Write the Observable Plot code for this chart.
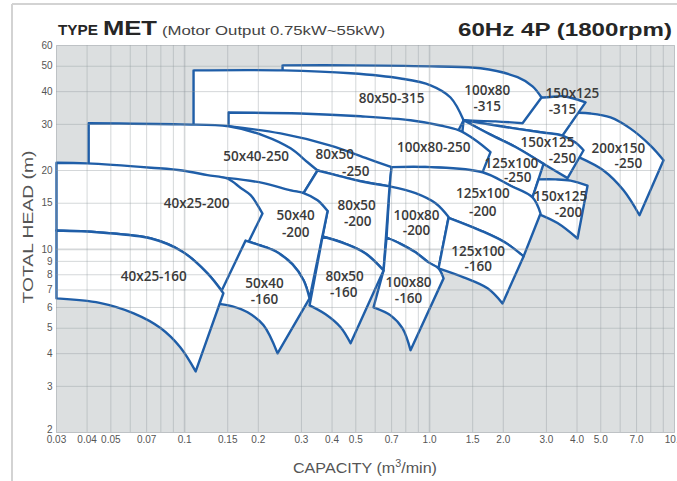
<!DOCTYPE html>
<html><head><meta charset="utf-8">
<script src="https://cdn.jsdelivr.net/npm/d3@7"></script>
<script src="https://cdn.jsdelivr.net/npm/@observablehq/plot@0.6"></script>
<style>
body{margin:0;background:#fff;}
#wrap{position:relative;width:677px;height:481px;overflow:hidden;}
#chart{position:absolute;left:0;top:0;}
#over{position:absolute;left:0;top:0;pointer-events:none;}
</style></head>
<body><div id="wrap"><div id="chart"></div>
<svg id="over" width="677" height="481" font-family="Liberation Sans, Arial, sans-serif">
  <line x1="12" y1="4" x2="677" y2="4" stroke="#d3d3d3" stroke-width="2"/>
  <line x1="12" y1="4" x2="12" y2="481" stroke="#d3d3d3" stroke-width="2"/>
  <text x="58" y="35" font-weight="bold" font-size="14.5" fill="#262626" textLength="40" lengthAdjust="spacingAndGlyphs">TYPE</text>
  <text x="103" y="35" font-weight="bold" font-size="20" fill="#262626" textLength="54" lengthAdjust="spacingAndGlyphs">MET</text>
  <text x="162" y="35" font-size="13" fill="#444" textLength="223" lengthAdjust="spacingAndGlyphs">(Motor Output 0.75kW~55kW)</text>
  <text x="458" y="36" font-weight="bold" font-size="19" fill="#262626" textLength="214" lengthAdjust="spacingAndGlyphs">60Hz 4P (1800rpm)</text>
  <text x="293" y="473" font-size="15" fill="#555" textLength="144" lengthAdjust="spacingAndGlyphs">CAPACITY (m<tspan font-size="10" dy="-6">3</tspan><tspan dy="6">/min)</tspan></text>
  <text transform="translate(33,227) rotate(-90)" text-anchor="middle" font-size="15" fill="#555" textLength="153" lengthAdjust="spacingAndGlyphs">TOTAL HEAD (m)</text>
</svg></div>
<script>
// ---- axis ticks ----
const xTickValues = [0.03,0.04,0.05,0.07,0.1,0.15,0.2,0.3,0.4,0.5,0.7,1,1.5,2,3,4,5,7,10];
const xTickLabels = ["0.03","0.04","0.05","0.07","0.1","0.15","0.2","0.3","0.4","0.5","0.7","1.0","1.5","2.0","3.0","4.0","5.0","7.0","10.0"];
const yTickValues = [3,4,5,6,7,8,9,10,15,20,30,40,50,60];
const yBottomTick = [2];
const xGridValues = [0.04,0.05,0.06,0.07,0.08,0.09,0.1,0.15,0.2,0.3,0.4,0.5,0.6,0.7,0.8,0.9,1,1.5,2,3,4,5,6,7,8,9];
const yGridValues = [3,4,5,6,7,8,9,10,15,20,30,40,50];

// ---- pump ranges: [capacity m3/min, head m] ----
// 315 band
const m150x125_315_top = [[1.377,42.3],[1.949,40.5],[2.865,38.0],[3.524,38.4],[4.334,36.4]];
const m150x125_315_bot = [[1.377,31.1],[1.949,29.5],[2.839,28.0],[3.491,27.2]];
const m100x80_315_top = [[0.2512,50.4],[0.4761,50.4],[1.088,49.9],[1.615,49.1],[2.287,45.4],[2.633,41.9],[2.865,38.0]];
const m100x80_315_bot = [[0.2512,37.1],[0.7614,34.0],[1.377,31.1],[1.859,30.8],[2.397,30.3]];
const m80x50_315_top = [[0.1088,48.2],[0.2535,48.2],[0.4761,47.0],[0.7614,44.9],[1.0095,42.3],[1.218,38.0],[1.377,31.1]];
const m80x50_315_bot = [[0.1088,28.9],[0.2975,28.7],[1.313,28.5]];
// 250 band
const m200x150_250_top = [[3.425,33.3],[4.542,33.0],[5.482,31.9],[6.612,28.9],[7.98,24.9],[9.02,21.9]];
const m200x150_250_bot = [[3.425,23.9],[4.057,22.5],[5.131,20.0],[6.193,16.8],[7.196,13.5]];
const m150x125_250_top = [[1.377,31.1],[1.949,29.5],[2.839,28.0],[3.491,27.2],[3.944,25.6],[4.253,23.9]];
const m150x125_250_bot = [[1.377,31.1],[1.774,27.4],[2.244,24.6],[2.920,21.2],[3.659,18.7]];
const m125x100_250_top = [[1.377,31.1],[1.774,27.4],[2.244,24.6],[2.920,21.2]];
const m125x100_250_bot = [[1.338,23.9],[1.646,19.7],[2.141,17.5],[2.633,15.8]];
const m100x80_250_top = [[0.1512,33.3],[0.2975,33.0],[0.523,32.2],[0.8364,31.1],[1.109,29.7],[1.313,28.5],[1.541,26.1],[1.774,23.5]];
const m100x80_250_bot = [[0.1512,26.1],[0.2975,23.9],[0.6998,20.6],[1.0095,20.6],[1.646,19.7]];
const m80x50_250_top = [[0.1512,29.5],[0.2465,27.7],[0.3944,24.9],[0.5582,22.2],[0.6998,20.6]];
const m80x50_250_bot = [[0.349,20.0],[0.4333,19.0],[0.523,18.2],[0.6868,17.4]];
const m50x40_250_top = [[0.0406,30.3],[0.0963,30.0],[0.1512,29.5],[0.2101,27.2],[0.2708,24.3],[0.3177,21.5],[0.349,20.0]];
const m50x40_250_bot = [[0.0406,20.0],[0.0728,20.0],[0.1512,18.3],[0.2141,17.4],[0.306,16.4]];
// 200 band
const m150x125_200_top = [[2.786,18.5],[3.268,18.5],[3.763,18.3],[4.416,17.5]];
const m150x125_200_bot = [[2.760,13.7],[3.330,12.6],[4.019,11.0]];
const m150x125_200_left = [[2.633,15.8]];
const m125x100_200_top = [[0.6998,20.6],[1.0095,20.6],[1.646,19.7],[2.141,17.5],[2.633,15.8],[2.839,13.7]];
const m125x100_200_bot = [[1.196,13.2],[1.615,11.8],[2.043,10.6],[2.420,9.40]];
const m125x100_200_left = [[0.6868,17.4]];
const m100x80_200_top = [[0.6868,17.4],[0.8768,16.4],[1.058,15.0],[1.196,13.3]];
const m100x80_200_bot = [[0.6677,11.1],[0.7614,10.5],[0.8768,9.74],[0.9906,8.92],[1.088,8.46]];
const m80x50_200_top = [[0.349,20.0],[0.4333,19.0],[0.523,18.2],[0.6868,17.4]];
const m80x50_200_bot = [[0.3658,11.2],[0.454,10.5],[0.5479,9.65],[0.6491,8.31]];
const m80x50_200_left = [[0.3835,14.0],[0.306,16.4]];
const m50x40_200_top = [[0.1162,19.0],[0.1512,18.7],[0.2101,17.9],[0.2708,16.8],[0.306,16.4],[0.349,15.4],[0.3835,14.0]];
const m50x40_200_bot = [[0.1774,10.8],[0.2005,10.4],[0.2351,9.83],[0.2759,8.76],[0.306,7.62],[0.3237,6.50]];
const m40x25_200_top = [[0.03,21.4],[0.04,21.3],[0.073,20.5],[0.098,20.0],[0.124,19.2],[0.150,18.6],[0.169,17.2],[0.186,16.1],[0.208,13.7]];
const m40x25_200_bot = [[0.03,11.8],[0.045,11.6],[0.073,11.0],[0.098,9.8],[0.124,8.1],[0.144,6.8]];
// 160 band
const m125x100_160_top = [[1.196,13.2],[1.615,11.8],[2.043,10.6],[2.420,9.40]];
const m125x100_160_bot = [[1.088,8.46],[1.377,7.82],[1.725,7.10],[1.986,6.22]];
const m100x80_160_top = [[0.6677,11.1],[0.7614,10.5],[0.8768,9.74],[0.9906,8.92],[1.088,8.46],[1.141,7.75]];
const m100x80_160_bot = [[0.5907,6.01],[0.6933,5.60],[0.776,4.99],[0.8364,4.12]];
const m100x80_160_left = [[0.6491,8.31]];
const m80x50_160_top = [[0.3658,11.2],[0.454,10.5],[0.5479,9.65],[0.6491,8.31]];
const m80x50_160_bot = [[0.3237,6.11],[0.3763,5.65],[0.4333,5.04],[0.4761,4.38]];
const m50x40_160_top = [[0.1774,10.8],[0.2005,10.4],[0.2351,9.83],[0.2759,8.76],[0.306,7.62],[0.3237,6.50]];
const m50x40_160_bot = [[0.1338,6.22],[0.157,6.06],[0.1808,5.75],[0.2101,5.13],[0.2396,4.01]];
const m40x25_160_top = [[0.03,11.8],[0.045,11.6],[0.073,11.0],[0.098,9.8],[0.124,8.1],[0.144,6.8]];
const m40x25_160_bot = [[0.03,6.5],[0.045,6.25],[0.062,5.7],[0.080,5.0],[0.096,4.23],[0.111,3.42]];

// drawing order: back to front
const shapes = [
  {top: m200x150_250_top, bot: m200x150_250_bot},
  {top: m150x125_315_top, bot: m150x125_315_bot},
  {top: m100x80_315_top, bot: m100x80_315_bot},
  {top: m80x50_315_top, bot: m80x50_315_bot},
  {top: m150x125_250_top, bot: m150x125_250_bot},
  {top: m125x100_250_top, bot: m125x100_250_bot},
  {top: m100x80_250_top, bot: m100x80_250_bot},
  {top: m80x50_250_top, bot: m80x50_250_bot},
  {top: m50x40_250_top, bot: m50x40_250_bot},
  {top: m150x125_200_top, bot: m150x125_200_bot, left: m150x125_200_left},
  {top: m125x100_200_top, bot: m125x100_200_bot, left: m125x100_200_left},
  {top: m100x80_200_top, bot: m100x80_200_bot},
  {top: m80x50_200_top, bot: m80x50_200_bot, left: m80x50_200_left},
  {top: m50x40_200_top, bot: m50x40_200_bot},
  {top: m40x25_200_top, bot: m40x25_200_bot},
  {top: m125x100_160_top, bot: m125x100_160_bot},
  {top: m100x80_160_top, bot: m100x80_160_bot, left: m100x80_160_left},
  {top: m80x50_160_top, bot: m80x50_160_bot},
  {top: m50x40_160_top, bot: m50x40_160_bot},
  {top: m40x25_160_top, bot: m40x25_160_bot}
];

// ---- model labels ----
const labelText = ["80x50-315","100x80","-315","150x125","-315",
  "50x40-250","80x50","-250","100x80-250","125x100","-250","150x125","-250","200x150","-250",
  "40x25-200","50x40","-200","80x50","-200","100x80","-200","125x100","-200","150x125","-200",
  "40x25-160","50x40","-160","80x50","-160","100x80","-160","125x100","-160"];
const labelQ = [0.70,1.72,1.72,3.83,3.49,
  0.196,0.41,0.50,1.04,2.16,2.29,3.03,3.49,5.90,6.48,
  0.112,0.284,0.284,0.504,0.509,0.885,0.885,1.65,1.65,3.42,3.69,
  0.0748,0.212,0.212,0.450,0.446,0.821,0.821,1.58,1.58];
const labelH = [37.7,40.5,35.1,39.4,34.2,
  22.5,22.9,19.8,24.5,21.3,18.7,25.6,22.2,24.3,21.3,
  15.0,13.4,11.6,14.7,12.8,13.5,11.8,16.3,13.9,15.9,13.8,
  7.89,7.42,6.44,7.89,6.85,7.48,6.50,9.83,8.62];
const labels = labelText.map((t,i)=>({t, q: labelQ[i], h: labelH[i]}));

// outline: smooth top/bottom curves, straight sides (corners doubled for catmull-rom)
function outline(s){
  const pts = [];
  const corner = p => { pts.push(p, p); };
  const top = s.top, bot = s.bot;
  corner(top[0]);
  for (let i = 1; i < top.length - 1; i++) pts.push(top[i]);
  corner(top[top.length-1]);
  corner(bot[bot.length-1]);
  for (let i = bot.length - 2; i > 0; i--) pts.push(bot[i]);
  corner(bot[0]);
  if (s.left) s.left.forEach(p => corner(p));
  corner(top[0]);
  return pts.map(p => ({q: p[0], h: p[1]}));
}

const blue = "#1f5ea8";
const marks = [Plot.frame({fill: "#dcdfe0"})];
shapes.forEach(s => {
  marks.push(Plot.line(outline(s), {x: "q", y: "h", curve: "catmull-rom", fill: "white", stroke: blue, strokeWidth: 2.4, strokeLinejoin: "round"}));
});
marks.push(Plot.ruleX(xGridValues, {stroke: "#8f969b", strokeOpacity: 0.38, strokeWidth: d => (d === 0.1 || d === 1) ? 1.6 : 1}));
marks.push(Plot.ruleY(yGridValues, {stroke: "#8f969b", strokeOpacity: 0.38, strokeWidth: d => d === 10 ? 1.6 : 1}));
marks.push(Plot.frame({stroke: "#8f969b", strokeOpacity: 0.5}));
marks.push(Plot.text(labels, {x: "q", y: "h", text: "t", fontSize: 13.5, fontWeight: 600, fill: "#3a3a3a", fontFamily: "Open Sans"}));
marks.push(Plot.text(xTickValues, {x: d => d, text: (d, i) => xTickLabels[i], frameAnchor: "bottom", dy: 10, fontSize: 10, fill: "#555"}));
marks.push(Plot.text(yTickValues, {y: d => d, text: d => String(d), frameAnchor: "left", dx: -4, textAnchor: "end", fontSize: 10, fill: "#555"}));
marks.push(Plot.text(yBottomTick, {y: d => d, text: d => String(d), frameAnchor: "left", dx: -4, dy: -3, textAnchor: "end", fontSize: 10, fill: "#555"}));

const chart = Plot.plot({
  width: 677, height: 481,
  marginLeft: 56, marginRight: 3, marginTop: 45, marginBottom: 49,
  x: {type: "log", domain: [0.03, 10], axis: null},
  y: {type: "log", domain: [2, 60], axis: null},
  style: {fontFamily: "Liberation Sans, Arial, sans-serif", background: "transparent"},
  marks
});
document.getElementById("chart").appendChild(chart);
</script></body></html>
